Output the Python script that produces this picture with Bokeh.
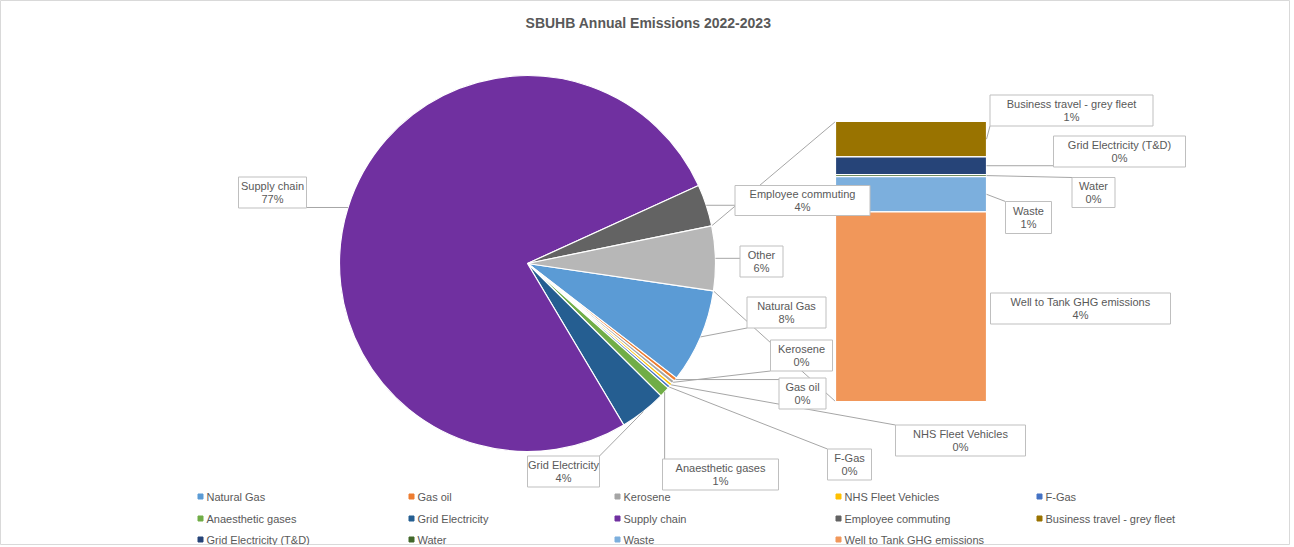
import math
from bokeh.plotting import figure
from bokeh.models import Range1d
from bokeh.core.properties import value
from bokeh.embed import file_html
from bokeh.resources import INLINE

# ---------------- data ----------------
pie_categories = ["Natural Gas", "Gas oil", "Kerosene", "NHS Fleet Vehicles", "F-Gas",
                  "Anaesthetic gases", "Grid Electricity", "Supply chain", "Employee commuting"]
pie_values = [8.1, 0.3, 0.3, 0.25, 0.25, 0.9, 4.0, 76.7, 3.6]
pie_colors = ["#5B9BD5", "#ED7D31", "#A5A5A5", "#FFC000", "#4472C4",
              "#70AD47", "#255E91", "#7030A0", "#636363"]

other_label = "Other"
other_color = "#B7B7B7"

bar_categories = ["Business travel - grey fleet", "Grid Electricity (T&D)", "Water", "Waste",
                  "Well to Tank GHG emissions"]
bar_values = [0.7, 0.35, 0.04, 0.7, 3.75]
bar_colors = ["#997300", "#264478", "#43682B", "#7CAFDD", "#F1975A"]

title_text = "SBUHB Annual Emissions 2022-2023"

# ---------------- layout (screen pixels) ----------------
W, H = 1290, 545
OFF = 0
def SY(sy):
    return (OFF + H) - sy

PIE_CX, PIE_CY, PIE_R = 527, SY(263), 188
START_DEG = -8.4
BAR_L, BAR_R, BAR_TOP, BAR_BOT = 835, 986, SY(121), SY(401)

# label boxes: center x, center y (screen), width, height
pie_label_boxes = {
    "Natural Gas": (786, 312, 79, 31),
    "Gas oil": (802, 393, 47, 31),
    "Kerosene": (801, 355, 62, 31),
    "NHS Fleet Vehicles": (960, 440, 130, 31),
    "F-Gas": (849, 464, 44, 31),
    "Anaesthetic gases": (720, 474, 116, 31),
    "Grid Electricity": (563, 471, 72, 31),
    "Supply chain": (272, 192, 68, 31),
    "Employee commuting": (802, 200, 135, 30),
    "Other": (761, 261, 43, 31),
}
bar_label_boxes = {
    "Business travel - grey fleet": (1071, 110, 163, 31),
    "Grid Electricity (T&D)": (1119, 151, 132, 31),
    "Water": (1093, 192, 43, 30),
    "Waste": (1028, 217, 46, 32),
    "Well to Tank GHG emissions": (1080, 308, 180, 31),
}
legend_cols_x = [200, 411, 617, 838, 1039]
legend_rows_y = [496, 518, 539]

FONT = "Liberation Sans"
TXT = "#595959"
LEAD = "#A6A6A6"

p = figure(width=W, height=H, output_backend="svg", toolbar_location=None,
           x_range=Range1d(OFF, OFF + W), y_range=Range1d(SY(OFF + H), SY(OFF)),
           min_border=0)
p.axis.visible = False
p.grid.visible = False
p.outline_line_color = "#D9D9D9"
p.background_fill_color = "white"

total = sum(pie_values) + sum(bar_values)
other_value = sum(bar_values)
slice_names = pie_categories + [other_label]
slice_vals = pie_values + [other_value]
slice_cols = pie_colors + [other_color]

def pct(v):
    return f"{int(math.floor(v / total * 100 + 0.5))}%"

# wedge angles (clockwise like Excel)
a0 = math.radians(START_DEG)
starts, ends, mids = [], [], []
cum = 0.0
for v in slice_vals:
    f = v / total
    s = a0 - 2 * math.pi * cum
    e = a0 - 2 * math.pi * (cum + f)
    starts.append(s); ends.append(e); mids.append((s + e) / 2)
    cum += f

# series lines from Other slice to bar
s_o, e_o = starts[-1], ends[-1]
p.segment(x0=[PIE_CX + PIE_R * math.cos(s_o), PIE_CX + PIE_R * math.cos(e_o)],
          y0=[PIE_CY + PIE_R * math.sin(s_o), PIE_CY + PIE_R * math.sin(e_o)],
          x1=[BAR_L, BAR_L], y1=[BAR_TOP, BAR_BOT], line_color=LEAD, line_width=1)

p.wedge(x=[PIE_CX] * len(slice_vals), y=[PIE_CY] * len(slice_vals), radius=PIE_R,
        radius_units="screen", start_angle=starts, end_angle=ends, direction="clock",
        fill_color=slice_cols, line_color="white", line_width=1.2)

# bar of "Other" (top to bottom in bar_categories order)
scale = (BAR_TOP - BAR_BOT) / other_value
tops, bots = [], []
y = BAR_TOP
for v in bar_values:
    tops.append(y)
    y -= v * scale
    bots.append(y)
p.quad(left=[BAR_L] * len(bar_values), right=[BAR_R] * len(bar_values), top=tops, bottom=bots,
       fill_color=bar_colors, line_color="white", line_width=1.2)

# anchors for labels
anchors = {}
for n, m in zip(slice_names, mids):
    anchors[n] = (PIE_CX + PIE_R * math.cos(m), PIE_CY + PIE_R * math.sin(m))
for n, t, b in zip(bar_categories, tops, bots):
    anchors[n] = (BAR_R, (t + b) / 2)

labels = []
for n, v in zip(slice_names, slice_vals):
    labels.append((n, v, pie_label_boxes[n]))
for n, v in zip(bar_categories, bar_values):
    labels.append((n, v, bar_label_boxes[n]))

lx0, ly0, lx1, ly1 = [], [], [], []
bx, by, bw, bh, texts = [], [], [], [], []
for n, v, (cx, cy, w, h) in labels:
    cyd = SY(cy)
    ax, ay = anchors[n]
    px = min(max(ax, cx - w / 2), cx + w / 2)
    py = min(max(ay, cyd - h / 2), cyd + h / 2)
    if math.hypot(px - ax, py - ay) > 5:
        lx0.append(px); ly0.append(py); lx1.append(ax); ly1.append(ay)
    bx.append(cx); by.append(cyd); bw.append(w); bh.append(h)
    texts.append(f"{n}\n{pct(v)}")

p.segment(x0=lx0, y0=ly0, x1=lx1, y1=ly1, line_color=LEAD, line_width=1)
p.rect(x=bx, y=by, width=bw, height=bh, fill_color="white", line_color="#BFBFBF", line_width=1)
p.text(x=bx, y=by, text=texts, text_align="center", text_baseline="middle",
       text_font=value(FONT), text_font_size="11px", text_color=TXT, text_line_height=1.15)

# title
p.text(x=[648], y=[SY(22)], text=[title_text], text_align="center", text_baseline="middle",
       text_font=value(FONT), text_font_size="14px", text_font_style="bold", text_color=TXT)

# legend
leg_names = pie_categories + bar_categories
leg_colors = pie_colors + bar_colors
mx, my, tx = [], [], []
for i, n in enumerate(leg_names):
    r, c = divmod(i, 5)
    mx.append(legend_cols_x[c]); my.append(SY(legend_rows_y[r])); tx.append(legend_cols_x[c] + 6)
p.scatter(x=mx, y=my, marker="square", size=5, fill_color=leg_colors, line_color=leg_colors)
p.text(x=tx, y=my, text=leg_names, text_align="left", text_baseline="middle",
       text_font=value(FONT), text_font_size="11px", text_color=TXT)

open("out.html", "w").write(file_html(p, INLINE))
